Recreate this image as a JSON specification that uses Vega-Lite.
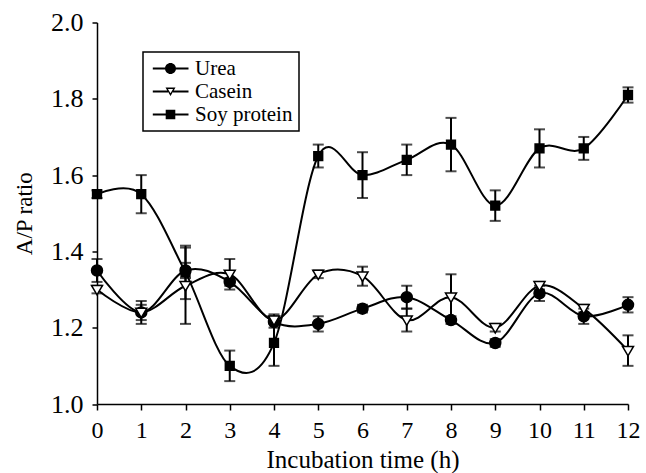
{
  "$schema": "https://vega.github.io/schema/vega-lite/v6.json",
  "autosize": {"type": "none"},
  "padding": {"left": 97, "top": 22.5, "right": 18, "bottom": 69},
  "width": 531,
  "height": 381.5,
  "background": "white",
  "config": {
    "view": {"stroke": null},
    "font": "Liberation Serif",
    "legend": {"strokeWidth": 1.5},
    "axis": {
      "grid": false,
      "domainColor": "black",
      "domainWidth": 1.5,
      "tickColor": "black",
      "tickWidth": 1.5,
      "labelColor": "black",
      "titleColor": "black",
      "labelFont": "Liberation Serif",
      "titleFont": "Liberation Serif",
      "labelFontWeight": "normal",
      "titleFontWeight": "normal",
      "labelFlush": false,
      "labelOverlap": false
    }
  },
  "data": {
    "values": [
      {"t": 0, "s": "Urea", "v": 1.35, "lo": 1.32, "hi": 1.38},
      {"t": 1, "s": "Urea", "v": 1.24, "lo": 1.21, "hi": 1.27},
      {"t": 2, "s": "Urea", "v": 1.35, "lo": 1.33, "hi": 1.37},
      {"t": 3, "s": "Urea", "v": 1.32, "lo": 1.31, "hi": 1.33},
      {"t": 4, "s": "Urea", "v": 1.215, "lo": 1.2, "hi": 1.235},
      {"t": 5, "s": "Urea", "v": 1.21, "lo": 1.19, "hi": 1.23},
      {"t": 6, "s": "Urea", "v": 1.25, "lo": 1.24, "hi": 1.26},
      {"t": 7, "s": "Urea", "v": 1.28, "lo": 1.25, "hi": 1.31},
      {"t": 8, "s": "Urea", "v": 1.22, "lo": 1.21, "hi": 1.23},
      {"t": 9, "s": "Urea", "v": 1.16, "lo": 1.15, "hi": 1.17},
      {"t": 10, "s": "Urea", "v": 1.29, "lo": 1.27, "hi": 1.31},
      {"t": 11, "s": "Urea", "v": 1.23, "lo": 1.21, "hi": 1.25},
      {"t": 12, "s": "Urea", "v": 1.26, "lo": 1.24, "hi": 1.28},
      {"t": 0, "s": "Casein", "v": 1.3, "lo": 1.29, "hi": 1.31},
      {"t": 1, "s": "Casein", "v": 1.24, "lo": 1.22, "hi": 1.26},
      {"t": 2, "s": "Casein", "v": 1.31, "lo": 1.21, "hi": 1.41},
      {"t": 3, "s": "Casein", "v": 1.34, "lo": 1.3, "hi": 1.38},
      {"t": 4, "s": "Casein", "v": 1.22, "lo": 1.21, "hi": 1.23},
      {"t": 5, "s": "Casein", "v": 1.34, "lo": 1.33, "hi": 1.35},
      {"t": 6, "s": "Casein", "v": 1.335, "lo": 1.31, "hi": 1.36},
      {"t": 7, "s": "Casein", "v": 1.22, "lo": 1.19, "hi": 1.25},
      {"t": 8, "s": "Casein", "v": 1.28, "lo": 1.22, "hi": 1.34},
      {"t": 9, "s": "Casein", "v": 1.2, "lo": 1.19, "hi": 1.21},
      {"t": 10, "s": "Casein", "v": 1.31, "lo": 1.3, "hi": 1.32},
      {"t": 11, "s": "Casein", "v": 1.25, "lo": 1.24, "hi": 1.26},
      {"t": 12, "s": "Casein", "v": 1.14, "lo": 1.1, "hi": 1.18},
      {"t": 0, "s": "Soy protein", "v": 1.55, "lo": 1.54, "hi": 1.56},
      {"t": 1, "s": "Soy protein", "v": 1.55, "lo": 1.5, "hi": 1.6},
      {"t": 2, "s": "Soy protein", "v": 1.345, "lo": 1.275, "hi": 1.415},
      {"t": 3, "s": "Soy protein", "v": 1.1, "lo": 1.06, "hi": 1.14},
      {"t": 4, "s": "Soy protein", "v": 1.16, "lo": 1.1, "hi": 1.22},
      {"t": 5, "s": "Soy protein", "v": 1.65, "lo": 1.62, "hi": 1.68},
      {"t": 6, "s": "Soy protein", "v": 1.6, "lo": 1.54, "hi": 1.66},
      {"t": 7, "s": "Soy protein", "v": 1.64, "lo": 1.6, "hi": 1.68},
      {"t": 8, "s": "Soy protein", "v": 1.68, "lo": 1.61, "hi": 1.75},
      {"t": 9, "s": "Soy protein", "v": 1.52, "lo": 1.48, "hi": 1.56},
      {"t": 10, "s": "Soy protein", "v": 1.67, "lo": 1.62, "hi": 1.72},
      {"t": 11, "s": "Soy protein", "v": 1.67, "lo": 1.64, "hi": 1.7},
      {"t": 12, "s": "Soy protein", "v": 1.81, "lo": 1.79, "hi": 1.83}
    ]
  },
  "encoding": {
    "x": {
      "field": "t",
      "type": "quantitative",
      "scale": {"domain": [0, 12], "nice": false, "zero": false},
      "axis": {
        "title": "Incubation time (h)",
        "values": [0, 1, 2, 3, 4, 5, 6, 7, 8, 9, 10, 11, 12],
        "format": "d",
        "tickSize": 6,
        "labelPadding": 8,
        "labelFont": "Liberation Serif",
        "titleFont": "Liberation Serif",
        "labelFontSize": 24,
        "titleFontSize": 25,
        "titleBaseline": "alphabetic",
        "titleY": 63.5
      }
    }
  },
  "layer": [
    {
      "mark": {"type": "line", "interpolate": "cardinal", "tension": 0, "strokeWidth": 2, "color": "black"},
      "encoding": {
        "y": {
          "field": "v",
          "type": "quantitative",
          "title": "A/P ratio",
          "scale": {"domain": [1, 2], "nice": false, "zero": false},
          "axis": {
            "title": "A/P ratio",
            "values": [1, 1.2, 1.4, 1.6, 1.8, 2],
            "format": ".1f",
            "tickSize": 5,
            "labelPadding": 9,
            "labelFont": "Liberation Serif",
            "titleFont": "Liberation Serif",
            "labelFontSize": 26,
            "titleFontSize": 23,
            "titleBaseline": "alphabetic",
            "titleX": -66,
            "titleY": 190.75
          }
        },
        "detail": {"field": "s"}
      }
    },
    {
      "mark": {
        "type": "errorbar",
        "ticks": {"size": 11, "thickness": 2, "color": "black"},
        "rule": {"strokeWidth": 2, "color": "black"}
      },
      "encoding": {
        "y": {"field": "lo", "type": "quantitative", "title": "A/P ratio"},
        "y2": {"field": "hi"}
      }
    },
    {
      "mark": {"type": "point", "filled": true, "stroke": "black", "strokeWidth": 1.5, "size": 121, "opacity": 1},
      "encoding": {
        "y": {"field": "v", "type": "quantitative", "title": "A/P ratio"},
        "shape": {
          "field": "s",
          "type": "nominal",
          "scale": {
            "domain": ["Urea", "Casein", "Soy protein"],
            "range": ["circle", "M-1,-0.75L1,-0.75L0,0.95Z", "M-0.8,-0.8H0.8V0.8H-0.8Z"]
          },
          "legend": null
        },
        "fill": {
          "field": "s",
          "type": "nominal",
          "scale": {"domain": ["Urea", "Casein", "Soy protein"], "range": ["black", "white", "black"]},
          "legend": null
        }
      }
    },
    {
      "transform": [{"filter": "datum.t < 0"}],
      "mark": {"type": "point", "filled": true, "color": "black", "size": 400, "opacity": 1},
      "encoding": {
        "y": {"field": "v", "type": "quantitative", "title": "A/P ratio"},
        "shape": {
          "field": "s",
          "type": "nominal",
          "scale": {
            "domain": ["Urea", "Casein", "Soy protein"],
            "range": [
              "M-0.67,-0.09H0.6V0.09H-0.67ZM1.6,-0.09H2.9V0.09H1.6ZM1.65,0A0.55,0.55 0 1,1 0.55,0A0.55,0.55 0 1,1 1.65,0Z",
              "M-0.67,-0.09H0.85V0.09H-0.67ZM1.35,-0.09H2.9V0.09H1.35ZM0.6,-0.4L1.6,-0.4L1.1,0.45ZM0.845,-0.26L1.1,0.174L1.355,-0.26Z",
              "M-0.67,-0.09H0.65V0.09H-0.67ZM1.55,-0.09H2.9V0.09H1.55ZM0.62,-0.48H1.58V0.48H0.62Z"
            ]
          },
          "legend": {
            "title": null,
            "orient": "none",
            "legendX": 46,
            "legendY": 29.5,
            "padding": 6,
            "strokeColor": "black",
            "fillColor": "white",
            "symbolSize": 400,
            "symbolFillColor": "black",
            "symbolStrokeColor": "black",
            "symbolStrokeWidth": 0,
            "labelFont": "Liberation Serif",
            "labelFontSize": 21,
            "labelColor": "black",
            "labelOffset": 25,
            "rowPadding": 1
          }
        }
      }
    }
  ],
  "resolve": {"scale": {"shape": "independent"}}
}
